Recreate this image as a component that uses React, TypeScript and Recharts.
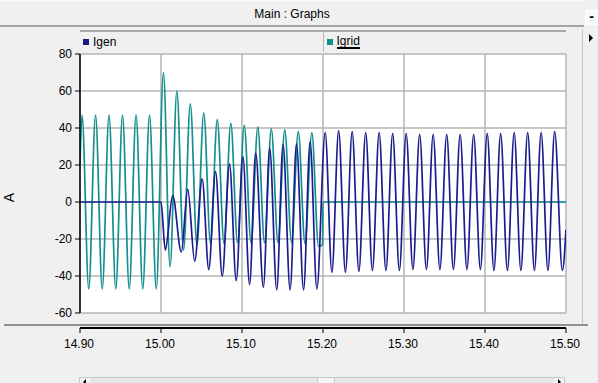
import React from "react";
import { LineChart, Line, XAxis, YAxis, CartesianGrid, Legend } from "recharts";

// extremes: [time s, current A]
const igridPoints: [number, number][] = [
  [14.9, 20], [14.9025, 47], [14.9108, -47], [14.9192, 47], [14.9275, -47],
  [14.9358, 47], [14.9442, -47], [14.9525, 47], [14.9608, -47], [14.9692, 47],
  [14.9775, -47], [14.9858, 47], [14.9942, -47],
  [15.003, 70], [15.0112, -35], [15.0196, 60], [15.0278, -26], [15.0362, 53],
  [15.0444, -23.5], [15.0528, 48], [15.0611, -22.5], [15.0695, 44.5], [15.0778, -22.5],
  [15.0862, 42.5], [15.0945, -22], [15.1028, 41.5], [15.1112, -22], [15.1195, 40.5],
  [15.1278, -22], [15.1362, 39.5], [15.1445, -22], [15.1528, 39], [15.1612, -22],
  [15.1695, 38], [15.1778, -22.5], [15.1862, 37.5], [15.1945, -24], [15.1995, -23],
  [15.2, 0], [15.5, 0],
];

const igenPoints: [number, number][] = [
  [14.9, 0], [15.0, 0], [15.0053, -26], [15.0144, 3.5], [15.0251, -27], [15.033, 7],
  [15.0416, -32], [15.0508, 12.5], [15.059, -36.5], [15.0673, 16.5], [15.0756, -40],
  [15.0846, 20.5], [15.0929, -42.5], [15.1011, 24.5], [15.1094, -44.5], [15.1169, 26.5],
  [15.1264, -46], [15.1342, 29], [15.1429, -47.5], [15.1507, 31], [15.1594, -47.5],
  [15.1673, 31.5], [15.176, -47.5], [15.1841, 32.5], [15.1924, -47], [15.2027, 37.5],
  [15.211, -38], [15.2193, 38.5], [15.2277, -38], [15.236, 38], [15.2443, -37.5],
  [15.2527, 37.5], [15.261, -37], [15.2693, 37.5], [15.2777, -37], [15.286, 37],
  [15.2943, -37], [15.3027, 37], [15.311, -36.5], [15.3193, 36.5], [15.3277, -36.5],
  [15.336, 36.5], [15.3443, -36.5], [15.3527, 36.5], [15.361, -36.5], [15.3693, 36.5],
  [15.3777, -36.5], [15.386, 36.5], [15.3943, -36.5], [15.4027, 37], [15.411, -37],
  [15.4193, 37], [15.4277, -37], [15.436, 37.5], [15.4443, -37], [15.4527, 37.5],
  [15.461, -37], [15.4693, 37.5], [15.4777, -37], [15.486, 38], [15.4955, -37],
  [15.5, -15],
];

const xTicks = [14.9, 15.0, 15.1, 15.2, 15.3, 15.4, 15.5];
const yTicks = [-60, -40, -20, 0, 20, 40, 60, 80];

const igridData = igridPoints.map(([t, v]) => ({ t, v }));
const igenData = igenPoints.map(([t, v]) => ({ t, v }));

const FONT = "'Liberation Sans', Arial, sans-serif";
const AXIS_Y = 328;

const XTick = (props: any) => {
  const { x, payload } = props;
  return (
    <g>
      <line x1={x} x2={x} y1={AXIS_Y} y2={AXIS_Y + 5} stroke="#000" />
      <text x={x - 1} y={AXIS_Y + 20} textAnchor="middle" fontSize={12} fill="#000" fontFamily={FONT}>
        {Number(payload.value).toFixed(2)}
      </text>
    </g>
  );
};

const YLabel = (props: any) => {
  const vb = props.viewBox || { x: 0, y: 0, height: 0 };
  const x = vb.x + 14;
  const y = vb.y + vb.height / 2 + 14;
  return (
    <text x={x} y={y} transform={`rotate(-90 ${x} ${y})`} textAnchor="middle" fontSize={14} fill="#000" fontFamily={FONT}>
      A
    </text>
  );
};

const LegendRow = (props: any) => {
  const items = props.payload || [];
  return (
    <div style={{ display: "flex", height: 22, borderTop: "2px solid #a8a8a8", boxSizing: "border-box" }}>
      {items.map((it: any, i: number) => (
        <div
          key={it.value}
          style={{
            flex: 1,
            display: "flex",
            alignItems: "center",
            paddingLeft: 3,
            borderLeft: i > 0 ? "1px solid #b8b8b8" : "none",
            fontSize: 12,
            fontFamily: FONT,
            color: "#000",
          }}
        >
          <span style={{ width: 6, height: 6, background: it.color, marginRight: 4, display: "inline-block" }} />
          <span style={i === 1 ? { borderBottom: "2px solid #000", lineHeight: "12px" } : undefined}>{it.value}</span>
        </div>
      ))}
    </div>
  );
};

export default function App() {
  return (
    <div
      style={{
        position: "fixed",
        left: 0,
        top: 0,
        width: 598,
        height: 383,
        background: "#f0f0f0",
        fontFamily: FONT,
        overflow: "hidden",
      }}
    >
      <LineChart width={598} height={383} margin={{ top: 54, right: 32, bottom: 0, left: 0 }}>
        <CartesianGrid stroke="#b4b4b4" strokeWidth={1.5} fill="#ffffff" />
        <XAxis
          type="number"
          dataKey="t"
          domain={[14.9, 15.5]}
          ticks={xTicks}
          allowDataOverflow
          axisLine={false}
          tickLine={false}
          height={70}
          tick={<XTick />}
        />
        <YAxis
          type="number"
          domain={[-60, 80]}
          ticks={yTicks}
          allowDataOverflow
          width={80}
          axisLine={{ stroke: "#000", strokeWidth: 1.5 }}
          tickLine={{ stroke: "#000" }}
          tickSize={5}
          tickMargin={3}
          tick={{ fill: "#000", fontSize: 12, fontFamily: FONT }}
          label={<YLabel />}
        />
        <Legend
          layout="horizontal"
          verticalAlign="middle"
          align="center"
          wrapperStyle={{ top: 30, left: 80, width: 486, height: 22 }}
          content={<LegendRow />}
        />
        <Line
          name="Igrid"
          data={igridData}
          dataKey="v"
          type="monotone"
          stroke="#138f8f"
          strokeWidth={1.7}
          dot={false}
          activeDot={false}
          isAnimationActive={false}
        />
        <Line
          name="Igen"
          data={igenData}
          dataKey="v"
          type="monotone"
          stroke="#1c1c8e"
          strokeWidth={1.7}
          dot={false}
          activeDot={false}
          isAnimationActive={false}
        />
      </LineChart>

      {/* window header */}
      <div
        style={{
          position: "absolute",
          left: 0,
          top: 0,
          width: 584,
          height: 27,
          borderTop: "1px solid #fafafa",
          borderBottom: "2px solid #a4a4a4",
          fontSize: 12,
          lineHeight: "26px",
          textAlign: "center",
          color: "#000",
          boxSizing: "border-box",
        }}
      >
        Main : Graphs
      </div>
      <div
        style={{
          position: "absolute",
          left: 585,
          top: 9,
          width: 13,
          height: 16,
          background: "#fafafa",
          fontSize: 14,
          lineHeight: "14px",
          fontWeight: "bold",
          textAlign: "center",
          color: "#000",
        }}
      >
        -
      </div>
      <div style={{ position: "absolute", left: 582, top: 29, width: 1, height: 296, background: "#c4c4c4" }} />
      <div
        style={{
          position: "absolute",
          left: 589,
          top: 34,
          width: 0,
          height: 0,
          borderTop: "4px solid transparent",
          borderBottom: "4px solid transparent",
          borderLeft: "4px solid #000",
        }}
      />

      {/* separator and detached time axis line */}
      <div style={{ position: "absolute", left: 4, top: 324, width: 584, height: 2, background: "#909090" }} />
      <div style={{ position: "absolute", left: 80, top: AXIS_Y - 1, width: 486, height: 2, background: "#000" }} />

      {/* scrollbar */}
      <div
        style={{
          position: "absolute",
          left: 79,
          top: 377,
          width: 486,
          height: 10,
          background: "#e6e6e6",
          border: "1px solid #c8c8c8",
          boxSizing: "border-box",
        }}
      />
      <div style={{ position: "absolute", left: 80, top: 378, width: 10, height: 9, background: "#f4f4f4" }} />
      <div
        style={{
          position: "absolute",
          left: 83,
          top: 379,
          width: 0,
          height: 0,
          borderTop: "3px solid transparent",
          borderBottom: "3px solid transparent",
          borderRight: "3px solid #000",
        }}
      />
      <div style={{ position: "absolute", left: 317, top: 378, width: 16, height: 9, background: "#f4f4f4", borderLeft: "1px solid #ccc", borderRight: "1px solid #ccc" }} />
      <div style={{ position: "absolute", left: 554, top: 378, width: 10, height: 9, background: "#f4f4f4" }} />
      <div
        style={{
          position: "absolute",
          left: 558,
          top: 379,
          width: 0,
          height: 0,
          borderTop: "3px solid transparent",
          borderBottom: "3px solid transparent",
          borderLeft: "3px solid #000",
        }}
      />
    </div>
  );
}
